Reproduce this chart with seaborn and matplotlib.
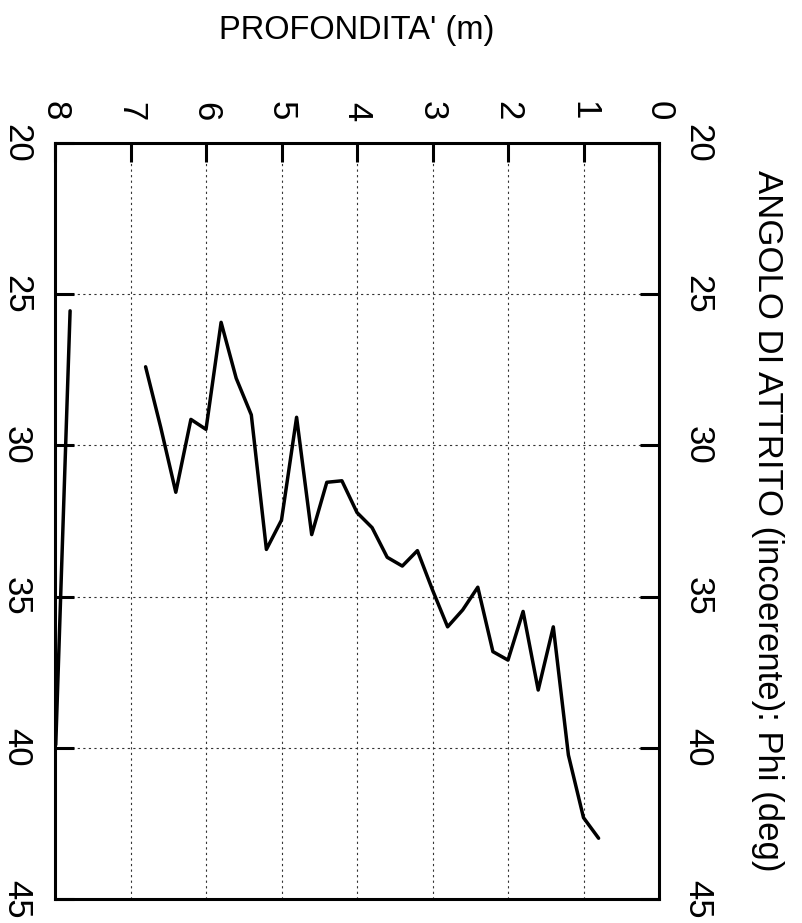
import matplotlib
matplotlib.use("Agg")
import matplotlib.pyplot as plt
import seaborn as sns
import pandas as pd

# Friction angle profile versus depth
depth_top = [7.80, 7.99]
phi_top = [25.55, 39.9]

depth_main = [6.8, 6.6, 6.4, 6.2, 6.0, 5.8, 5.6, 5.4, 5.2, 5.0, 4.8, 4.6, 4.4,
              4.2, 4.0, 3.8, 3.6, 3.4, 3.2, 3.0, 2.8, 2.6, 2.4, 2.2, 2.0, 1.8,
              1.6, 1.4, 1.2, 1.0, 0.8]
phi_main = [27.40, 29.4, 31.55, 29.14, 29.47, 25.93, 27.78, 28.99, 33.44, 32.47,
            29.07, 32.95, 31.22, 31.17, 32.22, 32.72, 33.70, 33.99, 33.48, 34.78,
            36.0, 35.44, 34.69, 36.82, 37.10, 35.49, 38.09, 36.0, 40.24, 42.31,
            42.99]

depth_ticks = [0, 1, 2, 3, 4, 5, 6, 7, 8]
phi_ticks = [20, 25, 30, 35, 40, 45]

depth_label = "PROFONDITA' (m)"
phi_label = "ANGOLO DI ATTRITO (incoerente): Phi (deg)"

sns.set_theme(style="white")
plt.rcParams["font.family"] = ["Liberation Sans", "DejaVu Sans"]

df = pd.concat([
    pd.DataFrame({"depth": depth_top, "phi": phi_top, "seg": "a"}),
    pd.DataFrame({"depth": depth_main, "phi": phi_main, "seg": "b"}),
])

fig = plt.figure(figsize=(8.02, 9.23), dpi=100)
ax = fig.add_axes([55 / 802, 24 / 923, 604 / 802, 756 / 923])

for seg, sub in df.groupby("seg"):
    sns.lineplot(data=sub, x="depth", y="phi", sort=False, estimator=None,
                 color="black", linewidth=2.5, ax=ax, legend=False)

ax.set_xlim(8, 0)
ax.set_ylim(45, 20)
ax.set_xticks(depth_ticks)
ax.set_yticks(phi_ticks)
ax.set_xticklabels([str(t) for t in depth_ticks])
ax.set_yticklabels([str(t) for t in phi_ticks])

ax.grid(True, color="#333333", linestyle=(0, (2, 3)), linewidth=0.8)

for sp in ax.spines.values():
    sp.set_visible(True)
    sp.set_color("black")
    sp.set_linewidth(2.2)

ax.xaxis.tick_top()
ax.tick_params(axis="x", top=True, bottom=False, labeltop=True, labelbottom=False,
               direction="in", length=14, width=2.2, pad=16, labelsize=25,
               labelrotation=-90, colors="black")
ax.tick_params(axis="y", left=True, right=True, labelleft=True, labelright=True,
               direction="in", length=14, width=2.2, pad=16, labelsize=25,
               labelrotation=-90, colors="black")
for lab in ax.get_yticklabels():
    lab.set_va("center")

ax.set_xlabel(depth_label, fontsize=23.5, color="black")
ax.xaxis.set_label_position("top")
ax.xaxis.label.set_va("center")
ax.xaxis.set_label_coords(0.5, (923 - 30 - 24) / 756)

ax.set_ylabel(phi_label, fontsize=25, color="black", rotation=-90)
ax.yaxis.set_label_position("right")
ax.yaxis.label.set_va("center")
ax.yaxis.label.set_ha("center")
ax.yaxis.set_label_coords((767 - 55) / 604, 0.5)

fig.savefig("out.png", dpi=100, facecolor="white")
